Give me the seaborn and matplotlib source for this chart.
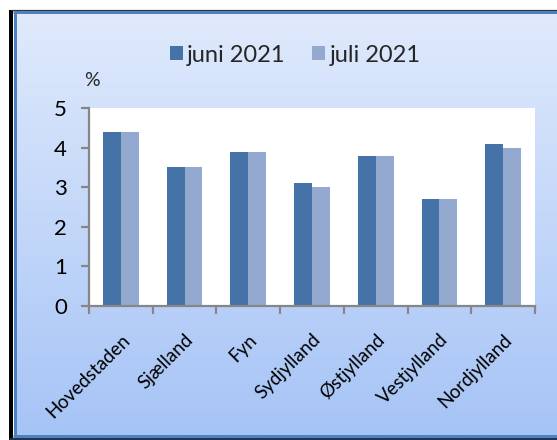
import numpy as np
import pandas as pd
import matplotlib
matplotlib.use("Agg")
import matplotlib.pyplot as plt
from matplotlib.lines import Line2D
import seaborn as sns

regions = ["Hovedstaden", "Sjælland", "Fyn", "Sydjylland", "Østjylland", "Vestjylland", "Nordjylland"]
juni = [4.4, 3.5, 3.9, 3.1, 3.8, 2.7, 4.1]
juli = [4.4, 3.5, 3.9, 3.0, 3.8, 2.7, 4.0]
series = ["juni 2021", "juli 2021"]
colors = ["#4572A7", "#93A9CF"]

df = pd.DataFrame({
    "region": regions * 2,
    "value": juni + juli,
    "serie": [series[0]] * len(regions) + [series[1]] * len(regions),
})

sns.set_theme(style="white")
plt.rcParams["font.family"] = ["Lato", "DejaVu Sans"]

W, H = 557, 440
PX = 72 / 100  # points per pixel
fig = plt.figure(figsize=(W / 100, H / 100), dpi=100)
fig.patch.set_facecolor("white")

# gradient background inside the frame
bg = fig.add_axes([0, 0, 1, 1], zorder=-10)
bg.axis("off")
top = np.array([224, 234, 252]) / 255
bot = np.array([166, 196, 246]) / 255
t = np.linspace(0, 1, 256)[:, None]
grad = top[None, :] * (1 - t) + bot[None, :] * t
grad = np.repeat(grad[:, None, :], 2, axis=1)
bg.imshow(grad, aspect="auto", extent=[14 / W, 1, 5 / H, (H - 12) / H], origin="upper", zorder=1)
bg.set_xlim(0, 1); bg.set_ylim(0, 1)


def fline(x0, y0, x1, y1, color, wpx, z):
    fig.add_artist(Line2D([x0 / W, x1 / W], [1 - y0 / H, 1 - y1 / H], transform=fig.transFigure,
                          color=color, linewidth=wpx * PX, solid_capstyle="butt", zorder=z))


# frame: dark outer, blue inner
fline(11, 10, 11, 440, "black", 4, -5)
fline(11, 10.5, 557, 10.5, "#333333", 1.2, -5)
fline(9, 438.5, 557, 438.5, "#22344f", 3, -5)
fline(14.5, 11, 14.5, 437, "#4F81BD", 3, -4)
fline(13, 12.5, 557, 12.5, "#4F81BD", 3, -4)
fline(13, 435.5, 557, 435.5, "#4F81BD", 3, -4)

# plot area: x 89..535, y 108..306 (pixels from top)
left, right, ytop, ybot = 89, 535, 108, 306
ax = fig.add_axes([left / W, 1 - ybot / H, (right - left) / W, (ybot - ytop) / H])
ax.set_facecolor("white")

sns.barplot(data=df, x="region", y="value", hue="serie", palette=colors,
            width=0.56, gap=0, saturation=1, ax=ax, legend=True, linewidth=0)

ax.set_ylim(0, 5)
ax.set_xlim(-0.5, len(regions) - 0.5)
ax.set_yticks(range(0, 6))
ax.set_xlabel("")
ax.set_ylabel("")
for s in ["top", "right"]:
    ax.spines[s].set_visible(False)
for s in ["left", "bottom"]:
    ax.spines[s].set_color("#868686")
    ax.spines[s].set_linewidth(1.6)

ax.tick_params(axis="y", which="major", left=True, length=6, width=1.6, color="#868686",
               labelsize=16, pad=10, labelcolor="black")
ax.tick_params(axis="x", which="major", bottom=False, labelsize=13.5, pad=12, labelcolor="black")
ax.set_xticks(np.arange(-0.5, len(regions), 1), minor=True)
ax.tick_params(axis="x", which="minor", bottom=True, length=6, width=1.6, color="#868686")
for lab in ax.get_xticklabels():
    lab.set_rotation(45)
    lab.set_ha("right")
    lab.set_rotation_mode("anchor")

leg = ax.legend(loc="center", bbox_to_anchor=(295 / W, 1 - 55 / H), bbox_transform=fig.transFigure,
                ncol=2, frameon=False, fontsize=17, handlelength=0.55, handleheight=0.55,
                handletextpad=0.2, columnspacing=1.1, borderpad=0)

fig.text(92 / W, 1 - 80 / H, "%", fontsize=14, ha="center", va="center")

fig.savefig("out.png", dpi=100)
